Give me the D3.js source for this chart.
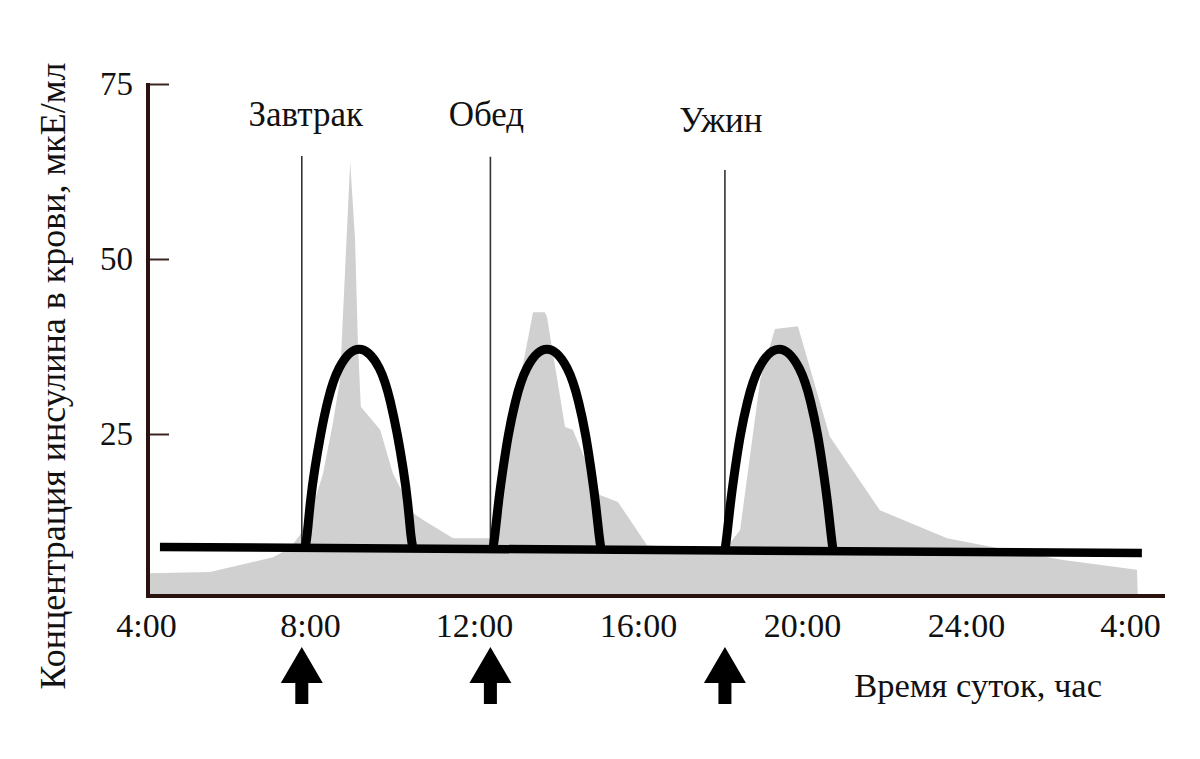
<!DOCTYPE html>
<html>
<head>
<meta charset="utf-8">
<title>Инсулин в крови</title>
<script src="https://cdn.jsdelivr.net/npm/d3@7"></script>
<style>
  body { margin: 0; background: #fff; }
  text { font-family: "Liberation Serif", "Times New Roman", serif; fill: #111; }
</style>
</head>
<body>
<div id="chart"></div>
<script>
// axis ticks
var yTicks = [25, 50, 75];
var xTickHours = [4, 8, 12, 16, 20, 24, 28];
var xTickLabels = ["4:00", "8:00", "12:00", "16:00", "20:00", "24:00", "4:00"];

// meals (hour of day, top of marker line)
var mealNames = ["Завтрак", "Обед", "Ужин"];
var mealHours = [7.8, 12.4, 18.12];
var mealLineTop = [64.7, 64.6, 62.7];

// basal insulin (thick straight line)
var basalHours = [4.34, 28.29];
var basalValues = [8.86, 8.0];

// measured insulin profile (grey area)
var actualHours = [4.05, 5.56, 7.10, 7.51, 7.76, 8.12, 8.32, 8.56, 8.73, 8.98, 9.10, 9.17, 9.24, 9.71, 10.02,
  10.51, 10.76, 11.49, 12.39, 12.68, 12.98, 13.20, 13.44, 13.73, 13.78, 14.22, 14.41, 15.07, 15.51, 16.22, 17.27, 18.05,
  18.24, 18.49, 18.98, 19.34, 19.90, 20.68, 21.90, 23.54, 24.76, 26.37, 28.17, 28.19];
var actualValues = [5.1, 5.3, 7.4, 8.7, 10.6, 15.6, 19.4, 26.6, 32.7, 63.9, 52.7, 37.7, 28.9, 25.6, 19.4,
  13.7, 12.7, 10.1, 10.1, 13.7, 28.0, 35.1, 42.4, 42.4, 41.7, 26.0, 25.6, 16.3, 15.3, 9.1, 8.6, 8.7,
  9.4, 11.3, 32.7, 40.0, 40.4, 24.6, 14.1, 10.1, 8.7, 7.0, 5.6, 2.0];

// ideal meal response (black arches)
var archHours = [
  [7.88, 7.93, 8.01, 8.12, 8.26, 8.43, 8.71, 9.20, 9.69, 9.96, 10.13, 10.27, 10.38, 10.46, 10.51],
  [12.46, 12.51, 12.60, 12.71, 12.84, 13.01, 13.29, 13.78, 14.27, 14.55, 14.72, 14.85, 14.96, 15.05, 15.10],
  [18.12, 18.17, 18.26, 18.37, 18.50, 18.67, 18.95, 19.44, 19.93, 20.21, 20.38, 20.51, 20.62, 20.71, 20.76]
];
var archValues = [
  [8.8, 10.6, 15.3, 20.1, 24.9, 29.6, 34.4, 37.1, 34.4, 29.6, 24.9, 20.1, 15.3, 10.6, 8.7],
  [8.6, 10.6, 15.3, 20.1, 24.9, 29.6, 34.4, 37.1, 34.4, 29.6, 24.9, 20.1, 15.3, 10.6, 8.5],
  [8.4, 10.6, 15.3, 20.1, 24.9, 29.6, 34.4, 37.1, 34.4, 29.6, 24.9, 20.1, 15.3, 10.6, 8.3]
];

var w = 1200, h = 759;
var axisBottomY = 596, axisLeftX = 148, axisRightX = 1165;

var svg = d3.select("#chart").append("svg")
  .attr("width", w)
  .attr("height", h);

var x = d3.scaleLinear().domain([4, 28]).range([146, 1130]);
var y = d3.scaleLinear().domain([0, 75]).range([609, 84]);

// grey area
var area = d3.area()
  .x(function(d) { return x(d[0]); })
  .y0(y(2))
  .y1(function(d) { return y(d[1]); });

svg.append("path")
  .datum(d3.zip(actualHours, actualValues))
  .attr("d", area)
  .attr("fill", "#d0d0d0");

// meal marker lines
svg.selectAll("line.meal")
  .data(mealHours)
  .enter().append("line")
  .attr("class", "meal")
  .attr("x1", function(d) { return x(d); })
  .attr("x2", function(d) { return x(d); })
  .attr("y1", function(d, i) { return y(mealLineTop[i]); })
  .attr("y2", y(8.8))
  .attr("stroke", "#333")
  .attr("stroke-width", 1.6);

// basal line
var line = d3.line()
  .x(function(d) { return x(d[0]); })
  .y(function(d) { return y(d[1]); });

svg.append("path")
  .datum(d3.zip(basalHours, basalValues))
  .attr("d", line)
  .attr("fill", "none")
  .attr("stroke", "#000")
  .attr("stroke-width", 8.5);

// arches
var archLine = d3.line()
  .x(function(d) { return x(d[0]); })
  .y(function(d) { return y(d[1]); })
  .curve(d3.curveNatural);

svg.selectAll("path.arch")
  .data(archHours.map(function(hs, i) { return d3.zip(hs, archValues[i]); }))
  .enter().append("path")
  .attr("class", "arch")
  .attr("d", archLine)
  .attr("fill", "none")
  .attr("stroke", "#000")
  .attr("stroke-width", 9);

// y axis: ticks pointing inwards, labels on the left
var yAxis = svg.append("g")
  .attr("transform", "translate(" + axisLeftX + ",0)")
  .call(d3.axisLeft(y).tickValues(yTicks).tickSizeInner(-21).tickSizeOuter(0).tickPadding(15));
yAxis.select(".domain").remove();
yAxis.selectAll(".tick line").attr("stroke", "#3a2520").attr("stroke-width", 2);
yAxis.selectAll(".tick text")
  .attr("font-family", "Liberation Serif")
  .attr("font-size", 33)
  .attr("fill", "#111");

// x axis labels
var xAxis = svg.append("g")
  .attr("transform", "translate(0," + axisBottomY + ")")
  .call(d3.axisBottom(x).tickValues(xTickHours).tickSize(0).tickPadding(17)
    .tickFormat(function(d, i) { return xTickLabels[i]; }));
xAxis.select(".domain").remove();
xAxis.selectAll(".tick text")
  .attr("font-family", "Liberation Serif")
  .attr("font-size", 34)
  .attr("fill", "#111");

// axis lines
svg.append("line")
  .attr("x1", axisLeftX).attr("x2", axisLeftX)
  .attr("y1", y(75) - 1).attr("y2", axisBottomY + 2)
  .attr("stroke", "#2a130e").attr("stroke-width", 4);
svg.append("line")
  .attr("x1", axisLeftX - 2).attr("x2", axisRightX)
  .attr("y1", axisBottomY).attr("y2", axisBottomY)
  .attr("stroke", "#2a130e").attr("stroke-width", 4);

// meal labels
svg.selectAll("text.meal")
  .data(mealNames)
  .enter().append("text")
  .attr("class", "meal")
  .attr("x", function(d, i) { return x(mealHours[i]) + (i === 0 ? 4 : -4); })
  .attr("y", function(d, i) { return i === 2 ? 132 : 126; })
  .attr("text-anchor", "middle")
  .attr("font-size", 35)
  .text(function(d) { return d; });

// arrows under the axis
svg.selectAll("path.arrow")
  .data(mealHours)
  .enter().append("path")
  .attr("class", "arrow")
  .attr("transform", function(d) { return "translate(" + x(d) + ",0)"; })
  .attr("d", "M0,647 L21,683 L6.5,683 L6.5,704 L-6.5,704 L-6.5,683 L-21,683 Z")
  .attr("fill", "#000");

// axis titles
svg.append("text")
  .attr("x", 1102)
  .attr("y", 697)
  .attr("text-anchor", "end")
  .attr("font-size", 34.5)
  .text("Время суток, час");

svg.append("text")
  .attr("transform", "translate(65,376) rotate(-90)")
  .attr("text-anchor", "middle")
  .attr("font-size", 36)
  .text("Концентрация инсулина в крови, мкЕ/мл");
</script>
</body>
</html>
